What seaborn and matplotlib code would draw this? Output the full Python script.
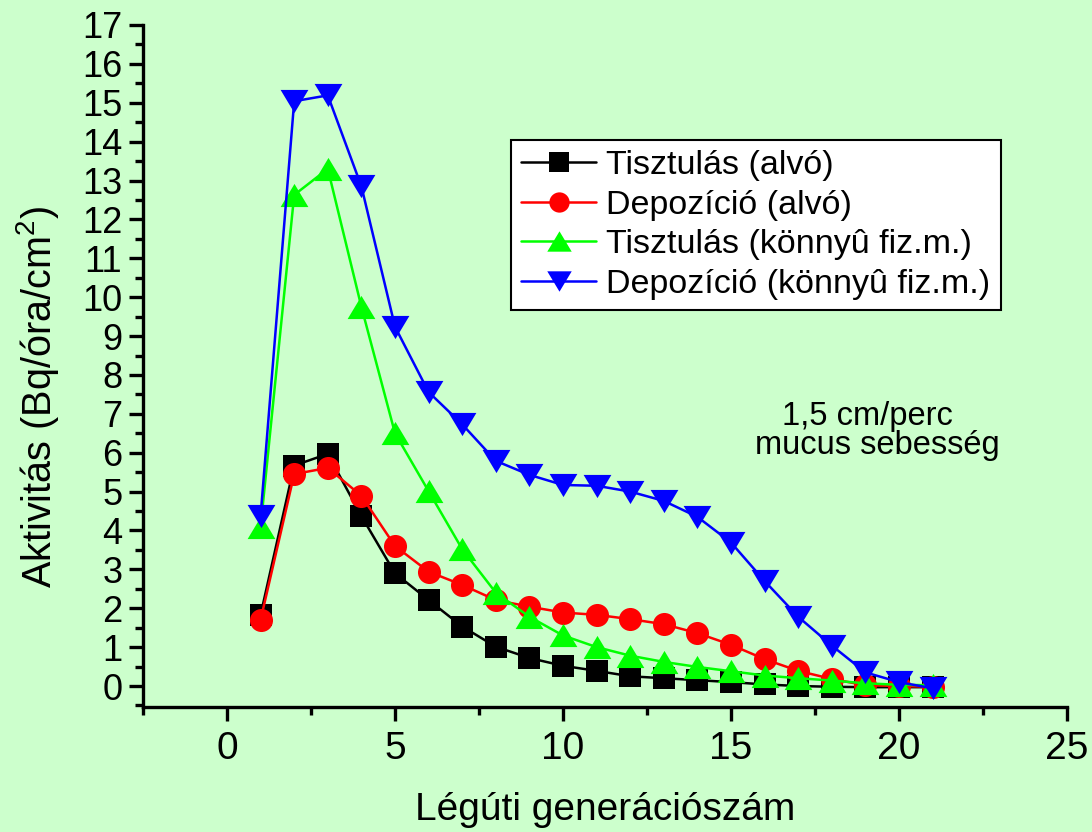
import matplotlib
matplotlib.use("Agg")
import matplotlib.pyplot as plt
from matplotlib.ticker import MultipleLocator
import seaborn as sns


# ── Data ──────────────────────────────────────────────────────────────────────
gen = list(range(1, 22))

tiszt_alvo = [1.83, 5.67, 5.97, 4.37, 2.90, 2.21, 1.53, 1.01, 0.72, 0.52, 0.39,
              0.25, 0.20, 0.15, 0.10, 0.04, 0.00, -0.02, -0.03, -0.03, -0.03]
depo_alvo = [1.70, 5.45, 5.61, 4.89, 3.60, 2.94, 2.60, 2.21, 2.04, 1.89, 1.83,
             1.72, 1.59, 1.36, 1.06, 0.69, 0.39, 0.18, 0.02, 0.00, -0.02]
tiszt_konnyu = [4.09, 12.63, 13.30, 9.75, 6.50, 5.01, 3.52, 2.40, 1.78, 1.30, 1.00,
                0.78, 0.62, 0.49, 0.38, 0.27, 0.20, 0.14, 0.07, 0.03, 0.02]
depo_konnyu = [4.38, 15.04, 15.19, 12.85, 9.24, 7.56, 6.73, 5.79, 5.43, 5.17, 5.15,
               5.00, 4.76, 4.35, 3.69, 2.70, 1.78, 1.04, 0.35, 0.10, -0.06]

labels = ["Tisztulás (alvó)", "Depozíció (alvó)",
          "Tisztulás (könnyû fiz.m.)", "Depozíció (könnyû fiz.m.)"]

# ── Style ─────────────────────────────────────────────────────────────────────
BG = "#CCFFCC"
COLORS = ["#000000", "#FF0000", "#00FF00", "#0000FF"]
TRI_UP = [(0, 1), (-1.2, -1), (1.2, -1)]
TRI_DOWN = [(0, -1), (-1.2, 1), (1.2, 1)]
MARKERS = ["s", "o", TRI_UP, TRI_DOWN]
SIZES = [15.6, 16.6, 20.0, 20.0]

sns.set_style("ticks", {"axes.facecolor": BG, "figure.facecolor": BG})
plt.rcParams["font.family"] = ["Liberation Sans", "DejaVu Sans"]
plt.rcParams["mathtext.fontset"] = "custom"
plt.rcParams["mathtext.rm"] = "Liberation Sans"
plt.rcParams["mathtext.default"] = "regular"
for key in ["text.color", "axes.labelcolor", "xtick.color", "ytick.color",
            "xtick.labelcolor", "ytick.labelcolor"]:
    plt.rcParams[key] = "black"

fig = plt.figure(figsize=(10.92, 8.32), dpi=100, facecolor=BG)
ax = fig.add_axes([143 / 1092, 1 - 707 / 832, 924 / 1092, 682 / 832])
ax.set_facecolor(BG)

series = [tiszt_alvo, depo_alvo, tiszt_konnyu, depo_konnyu]
for vals, col, mk, ms in zip(series, COLORS, MARKERS, SIZES):
    sns.lineplot(x=gen, y=vals, ax=ax, color=col, marker=mk, markersize=ms,
                 markeredgewidth=0, markeredgecolor=col, linewidth=1.8,
                 legend=False)

# ── Axes ──────────────────────────────────────────────────────────────────────
ax.set_xlim(-2.5, 25)
ax.set_ylim(-0.54, 17)
ax.xaxis.set_major_locator(MultipleLocator(5))
ax.xaxis.set_minor_locator(MultipleLocator(2.5))
ax.yaxis.set_major_locator(MultipleLocator(1))
ax.yaxis.set_minor_locator(MultipleLocator(0.5))

for side in ["top", "right"]:
    ax.spines[side].set_visible(False)
for side in ["left", "bottom"]:
    ax.spines[side].set_linewidth(2.4)
    ax.spines[side].set_color("black")

ax.tick_params(which="major", direction="out", length=10, width=2.4, color="black")
ax.tick_params(which="minor", direction="out", length=5.5, width=2.4, color="black")
ax.tick_params(axis="x", which="major", labelsize=28, pad=7)
ax.tick_params(axis="y", which="major", labelsize=26, pad=5)

ax.set_xlabel("Légúti generációszám", fontsize=28, labelpad=18)
ax.set_ylabel("Aktivitás (Bq/óra/cm$^{2}$)", fontsize=28.5)
ax.yaxis.set_label_coords(-0.089, 0.455)

# ── Legend and note ───────────────────────────────────────────────────────────
leg = ax.legend(ax.lines[:4], labels, loc="upper left",
                bbox_to_anchor=(511 / 1092, 1 - 140 / 832),
                bbox_transform=fig.transFigure, borderaxespad=0,
                fontsize=24.5, handlelength=2.2, handletextpad=0.3,
                labelspacing=0.25, borderpad=0.3, markerscale=0.88,
                frameon=True, fancybox=False, framealpha=1)
leg.get_frame().set_edgecolor("black")
leg.get_frame().set_facecolor("white")
leg.get_frame().set_linewidth(1.5)

fig.text(877 / 1092, 1 - 431 / 832, "1,5 cm/perc  \nmucus sebesség",
         ha="center", va="center", multialignment="center",
         fontsize=23.5, linespacing=0.9)

fig.savefig("out.png", dpi=100, facecolor=BG)
